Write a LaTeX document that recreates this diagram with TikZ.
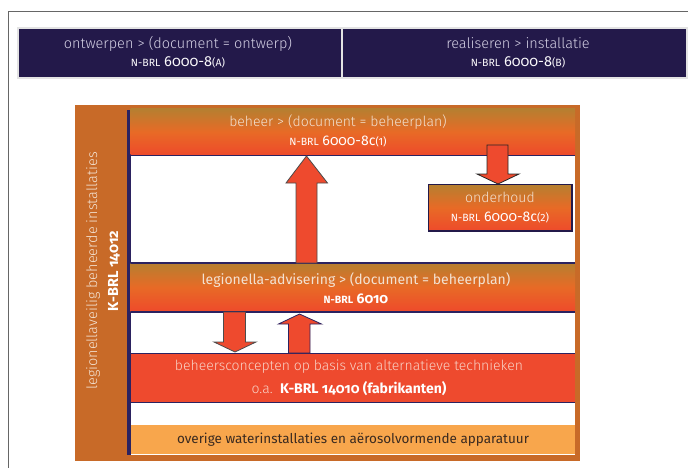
\documentclass[tikz,border=0pt]{standalone}
\usepackage{fontspec}
\setmainfont{Fira Sans}
\newfontfamily\lightfont{Fira Sans Light}
\newfontfamily\onumfont{Fira Sans}[Numbers=OldStyle]
\usetikzlibrary{calc}
\definecolor{navy}{HTML}{23194A}
\definecolor{navyline}{HTML}{2B2260}
\definecolor{headtext}{HTML}{D4D0E4}
\definecolor{frameorange}{HTML}{C86A28}
\definecolor{gradtop}{HTML}{B67F30}
\definecolor{gradmid}{HTML}{E86A26}
\definecolor{gradbot}{HTML}{EE4A2B}
\definecolor{redbar}{HTML}{EE4A2E}
\definecolor{lightbar}{HTML}{F8A64C}
\definecolor{creamtext}{HTML}{F3E2D2}
\definecolor{pinktext}{HTML}{F9D2C6}
\definecolor{darktext}{HTML}{3A2A20}
\newcommand{\smc}[1]{{\fontsize{10.5}{10.5}\selectfont #1}}
\newcommand{\brl}[2]{\smc{N-BRL} {\onumfont #1}\smc{#2}}
\tikzset{
  headbox/.style={fill=navy, draw=none},
  gradbar/.style={top color=gradtop, bottom color=gradbot, middle color=gradmid, draw=none},
  navyrule/.style={draw=navyline, line width=1.6pt},
  blockarrow/.style={fill=redbar, draw=black!70, line width=0.8pt, line join=miter},
  lbl/.style={align=center, inner sep=0pt, font=\fontsize{14}{19}\selectfont},
}
\begin{document}
\begin{tikzpicture}[x=1pt,y=-1pt]
\useasboundingbox (0,0) rectangle (688,468);
\fill[white] (0,0) rectangle (688,468);
% outer frame
\draw[draw=black!60, line width=1.5pt] (8.5,468) -- (8.5,11.5) -- (688,11.5);
% header
\fill[black!11] (17,27) rectangle (688,79);
\fill[headbox] (19,29) rectangle (341,77);
\fill[headbox] (343,29) rectangle (686,77);
\node[lbl, text=headtext, font=\fontsize{14.5}{18}\selectfont] (ontw) at (178,52.5) {{\lightfont ontwerpen > (document = ontwerp)}\\\textcolor{white!90!headtext}{\brl{6000-8}{(A)}}};
\node[lbl, text=headtext, font=\fontsize{14.5}{18}\selectfont] (real) at (518,52.5) {{\lightfont realiseren > installatie}\\\textcolor{white!90!headtext}{\brl{6000-8}{(B)}}};
% orange frame
\fill[frameorange] (75,105) rectangle (580,461);
\fill[white] (130,110) rectangle (575,455);
\fill[navyline] (127,110) rectangle (130.5,455);
% bars
\shade[gradbar] (130.5,109) rectangle (575,155);
\draw[navyrule] (130.5,155.5) -- (575,155.5);
\shade[gradbar] (130.5,263) rectangle (575,311.5);
\draw[navyrule] (130.5,263) -- (575,263);
\draw[navyrule] (130.5,312) -- (575,312);
\fill[redbar] (130.5,353) rectangle (575,402);
\draw[navyrule] (130.5,353.5) -- (575,353.5);
\draw[navyrule] (130.5,402.5) -- (575,402.5);
\fill[lightbar] (130.5,425) rectangle (575,453.5);
% onderhoud box
\shade[top color=gradtop, bottom color=gradbot, middle color=gradmid, draw=navy, line width=1.5pt] (428.5,184.5) rectangle (572,231);
% texts
\node[lbl, text=creamtext] (beheer) at (338,131) {{\lightfont beheer > (document = beheerplan)}\\\textcolor{white}{\brl{6000-8c}{(1)}}};
\node[lbl, text=creamtext] (onderh) at (500,207.5) {{\lightfont onderhoud}\\\textcolor{white}{\brl{6000-8c}{(2)}}};
\node[lbl, text=creamtext] (legio) at (356,288.5) {legionella-advisering > (document = beheerplan)\\\textcolor{white}{\bfseries\brl{6010}{}}};
\node[lbl, text=pinktext, font=\fontsize{14}{23}\selectfont] (conc) at (349,378) {{\lightfont beheersconcepten op basis van alternatieve technieken}\\{\lightfont o.a.}\ \ \textcolor{white}{\bfseries K-BRL {\onumfont 14010} (fabrikanten)}};
\node[lbl, text=darktext, font=\fontsize{13.5}{18}\selectfont] (overig) at (353,440) {overige waterinstallaties en aërosolvormende apparatuur};
\node[lbl, text=creamtext, rotate=90, font=\fontsize{14.5}{21}\selectfont] (side) at (103,271) {{\lightfont legionellaveilig beheerde installaties}\\\textcolor{white}{\bfseries K-BRL {\onumfont 14012}}};
% arrows
\draw[blockarrow] (296,263) -- (296,183) -- (286,183) -- (306.5,156) -- (327.5,183) -- (317,183) -- (317,263) -- cycle;
\draw[blockarrow, draw=black!85] (487,145) -- (508,145) -- (508,174) -- (519,174) -- (498,184) -- (477,174) -- (487,174) -- cycle;
\draw[blockarrow] (223.5,312) -- (245.5,312) -- (245.5,342) -- (256,342) -- (235,352) -- (214,342) -- (223.5,342) -- cycle;
\draw[blockarrow, draw=navyline] (288.5,353) -- (288.5,324) -- (278.5,324) -- (299.5,314) -- (321.5,324) -- (310,324) -- (310,353) -- cycle;
\end{tikzpicture}
\end{document}
